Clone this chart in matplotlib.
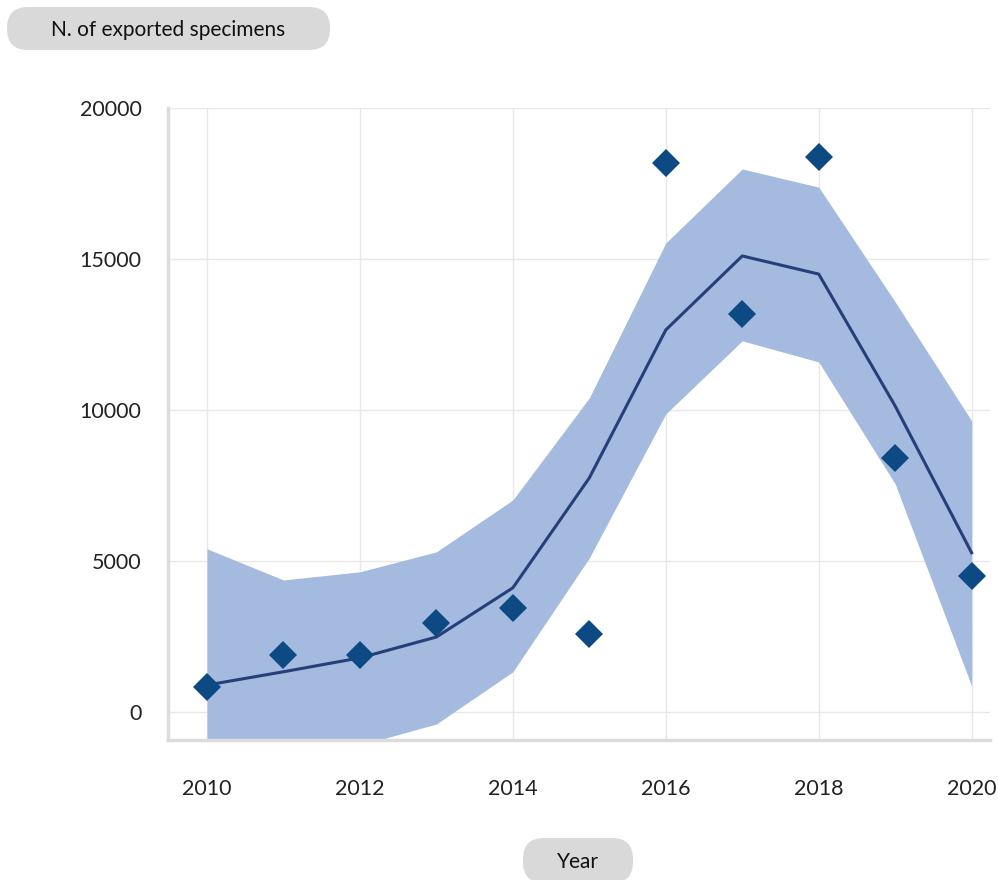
import numpy as np
import matplotlib.pyplot as plt
from matplotlib.patches import FancyBboxPatch
from matplotlib.transforms import IdentityTransform

plt.rcParams['font.family'] = ['Lato', 'DejaVu Sans']

# values
years = [2010, 2011, 2012, 2013, 2014, 2015, 2016, 2017, 2018, 2019, 2020]
observed = [830, 1890, 1890, 2950, 3440, 2580, 18180, 13180, 18380, 8410, 4500]
fitted = [890, 1330, 1790, 2480, 4110, 7750, 12650, 15100, 14500, 10130, 5270]
upper = [5400, 4370, 4640, 5300, 7020, 10400, 15530, 17980, 17380, 13580, 9640]
lower = [-3000, -2100, -1100, -400, 1330, 5100, 9870, 12290, 11590, 7550, 860]
xticks = [2010, 2012, 2014, 2016, 2018, 2020]
yticks = [0, 5000, 10000, 15000, 20000]

fig = plt.figure(figsize=(9.98, 8.8), dpi=100)
ax = fig.add_axes([168 / 998, 1 - 740 / 880, (990 - 168) / 998, (740 - 108) / 880])

ax.fill_between(years, lower, upper, color='#a4badf', linewidth=0, zorder=2)
ax.plot(years, fitted, color='#253f7a', linewidth=2.2, zorder=3)
ax.plot(years, observed, linestyle='none', marker='D', markersize=14,
        color='#0d4a84', markeredgewidth=0, zorder=4)

ax.set_xlim(2009.49, 2020.24)
ax.set_ylim(-930, 20000)
ax.set_xticks(xticks)
ax.set_yticks(yticks)
ax.grid(True, color='#e8e8e8', linewidth=1, zorder=0)
ax.set_axisbelow(True)
ax.tick_params(length=0, labelsize=15.5, colors='#222222')
ax.tick_params(axis='y', pad=19)
ax.tick_params(axis='x', pad=28)
for s in ['top', 'right']:
    ax.spines[s].set_visible(False)
for s in ['left', 'bottom']:
    ax.spines[s].set_color('#dcdcdc')
    ax.spines[s].set_linewidth(2.5)

# pill labels
for (x0, y0, w, h, txt) in [(7, 830, 323, 43, 'N. of exported specimens'),
                            (523, -3, 110, 45, 'Year')]:
    box = FancyBboxPatch((x0, y0), w, h, boxstyle='round,pad=0,rounding_size=21',
                         transform=IdentityTransform(), facecolor='#d9d9d9',
                         edgecolor='none')
    fig.patches.append(box)
    fig.text((x0 + w / 2) / 998, (y0 + h / 2 - 1.5) / 880, txt, ha='center', va='center',
             fontsize=15, color='#111111')

fig.savefig('out.png', dpi=100)
